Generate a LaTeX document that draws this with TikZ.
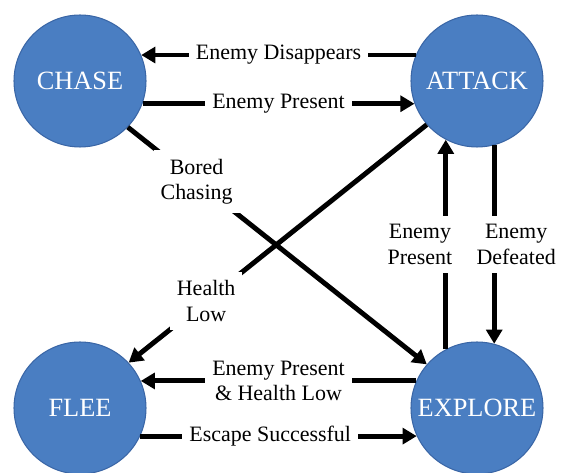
\documentclass[tikz,border=0pt]{standalone}
\usepackage{fontspec}
\setmainfont{Liberation Serif}
\usetikzlibrary{arrows.meta}
\definecolor{stateblue}{HTML}{4A7EC2}
\definecolor{stateedge}{HTML}{3A66A6}

\begin{document}
\begin{tikzpicture}
    [x=0.02cm, y=-0.02cm,
     statenode/.style={circle, minimum size=2.64cm, inner sep=0pt, fill=stateblue,
       draw=stateedge, line width=0.6pt, text=white, font=\fontsize{15}{18}\selectfont},
     trans/.style={line width=2.8pt, -{Triangle[length=8pt,width=9pt]}},
     lbl/.style={fill=white, align=center, inner xsep=4pt, inner ysep=5pt,
       font=\fontsize{12.5}{14.5}\selectfont}]
    \useasboundingbox (0,0) rectangle (566,473);
    \node[statenode] (chase) at (80,81) {CHASE};
    \node[statenode] (attack) at (477,81) {ATTACK};
    \node[statenode] (flee) at (80,408) {FLEE};
    \node[statenode] (explore) at (477,408) {EXPLORE};
    \draw[trans] (attack.157) -- node[lbl] {Enemy Disappears} (chase.23);
    \draw[trans] (chase.-20) -- node[lbl] {Enemy Present} (attack.200);
    \draw[trans] (chase.-44) -- node[lbl, pos=0.23] {Bored\\Chasing} (explore.139);
    \draw[trans] (attack.221) -- node[lbl, pos=0.74] {Health\\Low} (flee.43);
    \draw[trans] (explore.118) -- node[lbl, xshift=-14.7pt] {Enemy\\Present} (attack.242);
    \draw[trans] (attack.285) -- node[lbl, xshift=12.5pt] {Enemy\\Defeated} (explore.75);
    \draw[trans] (explore.156) -- node[lbl] {Enemy Present\\\& Health Low} (flee.24);
    \draw[trans] (flee.-25) -- node[lbl, pos=0.47] {Escape Successful} (explore.205);
\end{tikzpicture}
\end{document}
